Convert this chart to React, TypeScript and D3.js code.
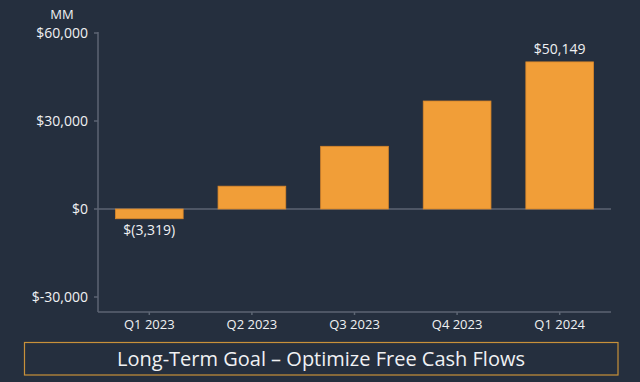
import React from "react";
import * as d3 from "d3";

const categories = ["Q1 2023", "Q2 2023", "Q3 2023", "Q4 2023", "Q1 2024"];
const values = [-3319, 7779, 21373, 36813, 50149];
const labels = ["$(3,319)", "", "", "", "$50,149"];
const yTicks = [-30000, 0, 30000, 60000];
const yTickLabels = ["$-30,000", "$0", "$30,000", "$60,000"];
const unitLabel = "MM";
const title = "Long-Term Goal \u2013 Optimize Free Cash Flows";

const W = 640, H = 382;
const BG = "#252f3e";
const BAR = "#f19e38";
const AXIS = "#5c6573";
const TEXT = "#f0f1f3";
const FONT = "'Open Sans', 'Noto Sans', sans-serif";

export default function App() {
  const left = 98, right = 611, axisBottom = 312;
  const x = d3.scaleBand<string>().domain(categories).range([left, right]).paddingInner(0.34).paddingOuter(0.17);
  const y = d3.scaleLinear().domain([-30000, 60000]).range([297, 33]);
  return (
    <div style={{ position: "fixed", left: 0, top: 0, width: W, height: H }}>
      <svg width={W} height={H} style={{ display: "block" }} fontFamily={FONT}>
        <rect x={0} y={0} width={W} height={H} fill={BG} />
        <line x1={left} x2={left} y1={y(60000) - 1} y2={axisBottom} stroke={AXIS} strokeWidth={1.5} />
        <line x1={left} x2={right} y1={axisBottom} y2={axisBottom} stroke={AXIS} strokeWidth={1.5} />
        <line x1={left} x2={right} y1={y(0)} y2={y(0)} stroke={AXIS} strokeWidth={1.5} />
        {yTicks.map((t, i) => (
          <g key={t}>
            <line x1={left - 4} x2={left} y1={y(t)} y2={y(t)} stroke={AXIS} strokeWidth={1.5} />
            <text x={left - 10} y={y(t)} dy="0.35em" textAnchor="end" fill={TEXT} fontSize={14}>{yTickLabels[i]}</text>
          </g>
        ))}
        <text x={62} y={19} textAnchor="middle" fill={TEXT} fontSize={13}>{unitLabel}</text>
        {categories.map((c, i) => {
          const v = values[i];
          const bx = x(c)!;
          const bw = x.bandwidth();
          const y0 = y(Math.max(0, v));
          const y1 = y(Math.min(0, v));
          return (
            <g key={c}>
              <rect x={bx} y={y0} width={bw} height={y1 - y0} fill={BAR} stroke="#d8862a" strokeWidth={0.8} />
              <line x1={bx + bw / 2} x2={bx + bw / 2} y1={axisBottom} y2={axisBottom + 3} stroke={AXIS} strokeWidth={1.5} />
              <text x={bx + bw / 2} y={axisBottom + 17} textAnchor="middle" fill={TEXT} fontSize={13}>{c}</text>
              {labels[i] && (
                <text x={bx + bw / 2} y={v < 0 ? y1 + 16 : y0 - 8} textAnchor="middle" fill={TEXT} fontSize={14}>{labels[i]}</text>
              )}
            </g>
          );
        })}
        <rect x={24.5} y={342.5} width={593.5} height={32.5} fill="none" stroke="#c8913a" strokeWidth={1.2} />
        <text x={321} y={358.5} dy="0.35em" textAnchor="middle" fill={TEXT} fontSize={20}>{title}</text>
      </svg>
    </div>
  );
}
